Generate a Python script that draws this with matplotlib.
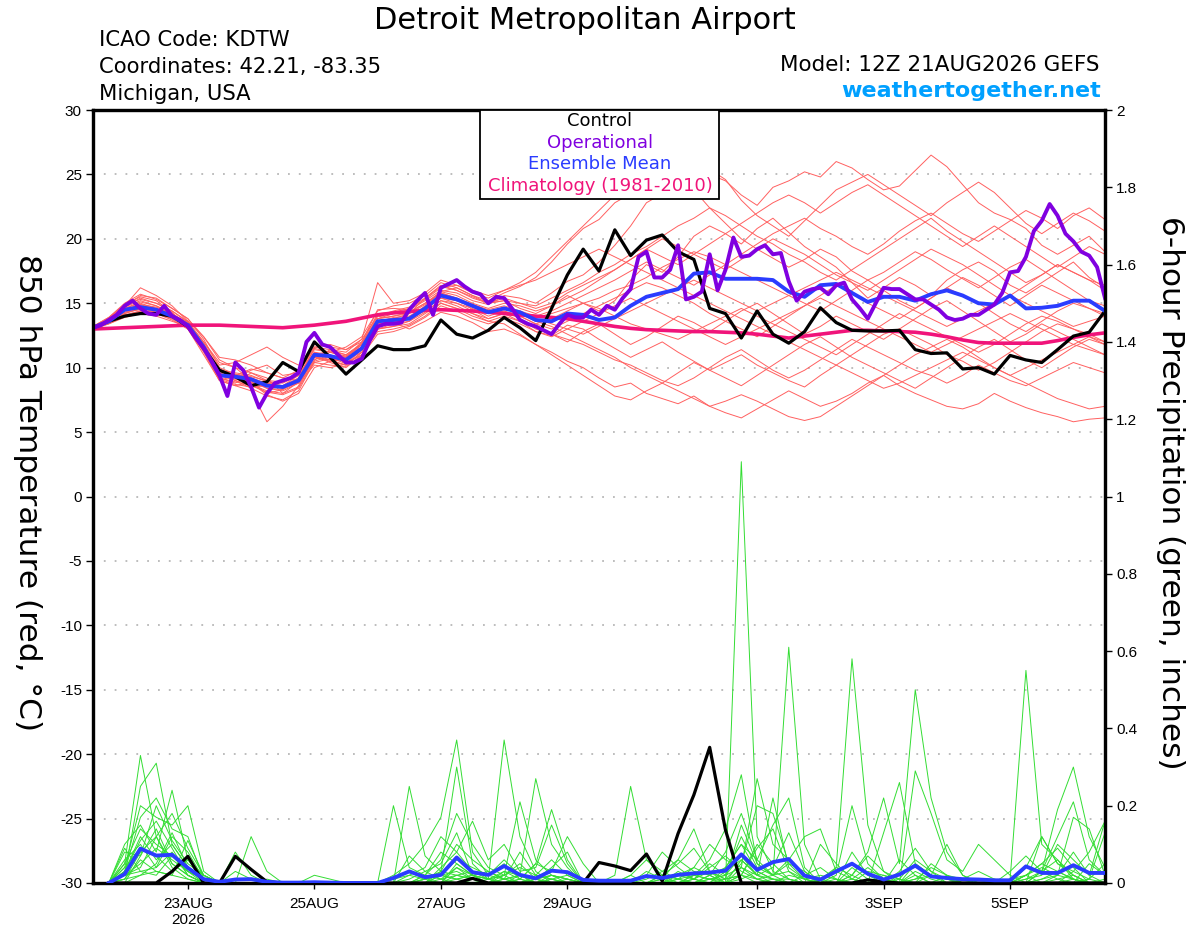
import numpy as np
import matplotlib
matplotlib.use("Agg")
import matplotlib.pyplot as plt
from matplotlib.patches import Rectangle

plt.rcParams['font.family'] = ['Liberation Sans', 'DejaVu Sans']

# ---------------- data ----------------
run_start = np.datetime64('2026-08-21T12')
tick_dates = ['2026-08-23', '2026-08-25', '2026-08-27', '2026-08-29', '2026-09-01', '2026-09-03', '2026-09-05']
tick_labels = ['23AUG\n2026', '25AUG', '27AUG', '29AUG', '1SEP', '3SEP', '5SEP']
step_hours = 6
oper_step_hours = 3

control = [13.1,13.6,14.0,14.2,14.2,14.0,13.2,11.5,9.8,9.3,8.6,8.9,10.4,9.7,12.0,10.8,9.5,10.6,11.7,11.4,11.4,11.7,13.7,12.6,
           12.3,12.9,13.9,13.1,12.1,14.6,17.2,19.2,17.5,20.7,18.7,19.9,20.3,19.0,18.4,14.6,14.2,12.3,14.4,12.6,11.9,
           12.8,14.65,13.5,12.9,12.85,12.85,12.9,11.4,11.1,11.15,9.9,10.0,9.5,10.95,10.6,10.4,11.4,12.45,12.75,14.4]

ens_mean = [13.1,13.6,14.5,14.7,14.5,14.0,13.3,11.6,9.4,9.3,9.1,8.6,8.5,9.0,11.0,10.9,10.6,11.5,13.6,13.7,13.8,14.6,15.6,15.3,
            14.8,14.3,14.6,14.3,13.7,13.6,14.2,14.1,13.7,13.9,14.8,15.5,15.8,16.1,17.3,17.4,16.9,16.9,16.9,16.8,15.9,
            15.5,16.4,16.5,15.8,15.1,15.5,15.5,15.2,15.7,16.0,15.6,15.0,14.9,15.6,14.6,14.65,14.8,15.2,15.2,14.4]

climatology = [13.0,13.05,13.1,13.15,13.2,13.25,13.3,13.3,13.3,13.25,13.2,13.15,13.1,13.2,13.3,13.45,13.6,13.85,14.1,14.25,
               14.35,14.45,14.5,14.45,14.4,14.3,14.2,14.1,14.0,13.9,13.8,13.6,13.4,13.2,13.05,12.95,12.9,12.85,12.8,12.8,
               12.75,12.7,12.6,12.45,12.3,12.45,12.6,12.75,12.9,12.9,12.85,12.8,12.75,12.6,12.4,12.15,11.95,11.9,11.9,11.9,
               11.9,12.1,12.35,12.55,12.7]

operational = [13.1,13.3,13.7,14.1,14.8,15.2,14.6,14.2,14.1,14.8,14.0,13.7,13.2,12.3,11.5,10.5,9.4,7.8,10.4,9.8,8.5,6.9,8.0,8.8,
               9.0,9.2,9.6,12.0,12.7,11.8,11.6,11.0,10.4,10.4,10.7,12.1,13.2,13.4,13.4,13.5,14.5,15.2,15.8,14.1,16.2,16.5,16.8,
               16.3,15.9,15.7,15.0,15.5,15.4,14.6,13.7,13.4,13.2,12.9,12.6,13.4,14.1,13.9,13.9,14.5,14.1,14.8,14.5,15.4,16.1,
               18.6,19.0,17.0,17.0,17.6,19.5,15.3,15.5,15.9,18.8,16.0,17.6,20.1,18.6,18.7,19.2,19.5,18.8,18.9,16.7,
               15.2,15.9,16.1,16.2,15.7,16.4,16.6,15.3,14.6,13.8,15.0,16.2,16.1,16.1,15.7,15.3,15.3,14.9,14.5,13.9,13.7,13.8,
               14.1,14.1,14.5,14.9,15.8,17.4,17.5,18.6,20.6,21.4,22.7,21.8,20.4,19.8,19.0,18.7,17.8,15.4]

temp_members = [
 [13.2,13.8,14.9,15.5,15.2,14.3,13.0,11.0,9.0,8.6,8.9,8.0,8.3,9.2,11.5,11.2,10.8,12.0,14.5,14.6,14.5,15.2,
  16.0,15.8,15.2,14.9,15.6,15.4,15.0,15.8,16.7,17.2,18.2,19.5,21.0,22.8,23.5,24.8,24.2,25.0,24.5,23.4,22.6,24.0,
  24.5,25.2,24.8,26.0,25.5,24.6,23.8,24.1,25.3,26.5,25.6,24.2,22.8,22.0,21.5,20.8,19.5,18.8,19.5,20.2,19.0],
 [13.0,13.5,14.0,14.4,14.2,13.8,13.4,12.0,10.2,10.4,11.0,11.6,10.8,10.2,10.8,10.5,10.2,11.2,13.2,13.5,13.0,13.6,
  14.3,14.0,13.5,12.8,13.0,12.5,11.8,11.2,10.5,10.0,9.2,8.5,8.8,8.0,7.6,7.2,7.8,7.0,6.5,6.1,6.8,7.5,
  8.2,7.6,7.0,7.4,8.0,8.8,9.4,8.6,8.0,7.5,7.0,6.8,7.2,8.0,7.4,6.9,6.5,6.2,5.8,6.0,6.1],
 [13.1,13.7,14.6,15.0,14.6,14.0,13.5,11.8,9.6,9.0,8.4,7.8,7.5,8.2,10.5,10.9,10.8,11.8,13.8,14.2,14.3,15.0,
  15.8,15.4,14.5,13.8,14.2,13.6,12.8,12.5,13.3,13.0,12.2,11.5,10.8,11.4,12.0,11.2,10.5,9.8,10.4,11.0,10.2,9.6,
  9.0,8.5,9.4,10.2,11.0,11.8,12.6,13.0,12.4,11.8,11.0,10.5,9.8,10.4,11.2,12.0,12.8,13.4,13.0,12.6,12.0],
 [13.2,13.9,15.0,15.7,15.3,14.6,13.8,12.2,10.0,9.5,9.2,8.8,8.6,9.4,11.2,11.0,10.4,11.0,13.0,13.4,13.9,14.8,
  15.9,16.2,15.6,15.2,15.8,16.3,17.0,18.2,19.6,20.8,21.5,22.8,23.5,24.2,25.0,24.6,23.8,22.4,21.2,20.0,19.2,18.5,
  17.8,18.4,19.2,18.6,17.5,16.8,17.4,18.2,19.0,18.4,17.6,16.9,16.2,17.0,17.8,18.4,17.6,16.8,16.0,15.2,14.8],
 [13.0,13.6,14.3,14.5,14.6,14.2,13.2,11.5,9.2,8.8,9.6,9.2,8.0,8.5,10.6,11.4,11.2,12.2,14.0,13.8,14.2,15.4,
  16.4,16.0,15.4,15.0,15.2,14.6,14.2,14.8,15.6,15.0,14.4,15.2,16.8,18.0,17.4,18.6,20.2,21.0,20.4,19.6,20.8,21.6,
  20.5,19.4,18.6,17.8,16.6,15.4,16.2,17.0,16.4,15.6,16.8,17.6,18.2,17.5,16.4,15.8,16.6,17.4,18.2,17.0,16.2],
 [13.1,13.5,14.2,14.6,14.3,13.8,13.0,11.2,9.0,9.4,9.9,9.6,9.2,9.0,10.9,10.4,10.0,11.0,12.8,13.0,13.3,14.0,
  15.0,14.6,14.0,13.6,14.0,13.6,13.2,12.6,12.0,12.8,13.4,12.6,11.8,12.4,13.2,14.0,13.5,12.8,13.6,14.4,15.0,14.2,
  13.4,12.6,13.2,14.0,13.4,12.8,12.2,13.0,13.8,14.6,15.2,14.4,13.6,12.8,12.0,12.6,13.4,12.8,12.2,11.6,11.0],
 [13.2,13.8,14.7,15.2,14.8,14.2,13.4,11.8,9.8,9.6,9.4,8.9,8.8,9.4,11.4,11.2,10.9,11.6,13.5,13.9,14.0,14.7,
  15.6,15.2,14.9,14.5,14.8,14.4,14.0,14.4,15.0,15.6,16.2,16.8,17.5,18.2,17.6,17.0,16.4,17.2,18.0,18.8,19.6,20.4,
  21.0,21.6,20.8,20.2,19.4,18.8,19.6,20.6,21.4,22.0,21.2,20.4,19.8,20.6,21.4,22.2,21.6,20.8,21.8,22.4,21.5],
 [13.0,13.4,14.0,14.3,14.4,14.0,13.6,12.4,10.6,10.0,9.0,8.4,8.2,8.8,10.2,10.0,10.3,11.4,13.4,13.6,13.9,14.6,
  15.4,15.0,14.6,14.0,14.4,14.0,13.4,13.0,13.6,14.2,14.8,15.4,16.0,16.6,16.2,15.6,15.0,14.2,13.6,13.0,12.4,13.2,
  14.0,14.8,15.6,16.4,15.8,15.0,14.4,13.8,14.6,15.4,16.2,15.6,15.0,14.2,13.4,12.8,13.6,14.4,15.0,14.6,14.0],
 [13.1,13.6,14.4,14.8,14.6,14.1,13.2,11.3,9.0,8.6,8.2,5.8,7.0,8.6,10.8,10.6,10.5,11.4,13.2,13.4,13.6,14.3,
  15.2,14.8,14.2,13.6,13.4,12.6,11.8,11.0,10.2,9.4,8.6,7.8,7.5,8.2,8.8,9.6,10.4,9.8,9.2,8.6,9.4,10.2,
  11.0,11.8,12.4,11.6,10.8,10.2,9.6,9.0,8.4,9.2,10.0,10.8,11.6,12.2,11.4,10.6,10.0,10.8,11.6,12.2,11.8],
 [13.2,13.7,14.8,16.2,15.6,14.8,13.6,11.6,9.4,9.0,8.7,8.2,8.0,8.9,11.0,11.3,11.0,11.9,14.2,14.3,14.6,15.3,
  16.2,16.4,15.8,15.4,16.0,16.6,17.4,18.6,19.8,21.0,22.2,23.4,24.6,25.2,24.4,25.6,26.2,25.4,24.6,23.0,21.8,21.0,
  20.2,21.4,22.6,23.8,24.4,25.0,24.2,23.4,22.6,21.8,22.8,23.6,24.4,23.6,22.4,21.2,20.4,21.2,22.0,21.4,20.6],
 [13.0,13.5,14.2,14.6,14.4,13.9,13.1,11.4,9.6,9.2,9.8,10.2,9.4,9.6,11.6,11.8,11.4,12.0,13.6,13.5,13.8,14.4,
  15.2,15.0,14.4,14.2,14.6,14.2,13.9,14.2,14.6,15.0,15.4,16.0,16.4,17.0,17.8,18.4,19.0,18.6,18.0,17.4,16.8,16.2,
  15.6,15.0,14.4,15.2,16.0,16.8,16.0,15.2,14.6,15.4,16.2,17.0,16.4,15.6,14.8,15.6,16.4,15.8,15.2,14.6,14.2],
 [13.1,13.6,14.5,14.9,14.5,13.9,13.3,11.7,9.2,8.9,8.6,8.1,7.9,8.4,10.4,10.7,10.6,11.2,13.0,13.2,13.6,14.5,
  15.4,15.2,14.7,14.2,14.4,13.8,13.0,12.6,12.2,11.8,11.2,10.6,10.2,9.6,9.0,8.6,9.2,10.0,10.8,11.4,10.6,9.8,
  9.2,9.8,10.6,11.4,12.2,11.6,11.0,10.4,9.8,9.4,8.8,9.4,10.2,9.6,9.0,8.6,9.2,9.8,10.4,10.0,9.6],
 [13.2,13.9,14.9,15.3,15.0,14.4,13.5,11.9,9.9,9.3,8.8,7.9,7.4,8.0,10.0,10.5,10.8,11.8,14.0,14.4,14.7,15.4,
  16.3,16.0,15.5,15.0,15.4,15.0,14.8,15.4,16.0,16.6,17.4,18.0,18.8,19.4,20.2,21.0,21.6,22.4,21.8,21.0,20.2,19.6,
  18.8,18.2,17.4,16.8,17.6,18.4,19.2,20.0,20.8,21.6,20.6,19.8,19.0,18.2,17.4,16.6,17.2,18.0,17.4,16.8,16.4],
 [13.0,13.5,14.1,14.4,14.2,13.7,13.0,11.5,9.4,9.1,9.0,8.8,8.6,9.2,11.2,10.8,10.3,11.0,13.0,13.2,13.4,14.2,
  15.0,14.6,14.2,13.8,14.2,14.0,13.4,13.8,14.4,15.0,14.6,14.0,13.4,13.0,12.6,12.2,12.8,13.4,14.0,14.6,14.0,13.4,
  12.8,12.2,11.6,11.0,11.8,12.6,13.4,14.2,13.6,13.0,12.4,11.8,11.2,11.8,12.6,13.4,14.0,13.6,13.0,12.4,11.8],
 [13.1,13.7,14.6,15.1,14.8,14.2,13.4,11.6,9.5,9.2,8.9,8.4,8.3,8.9,10.8,10.9,10.9,11.8,13.8,14.0,14.2,14.9,
  15.8,15.4,14.9,14.4,14.6,14.2,13.6,13.2,12.6,12.0,11.4,10.8,10.0,9.4,8.8,8.2,7.6,7.0,7.4,7.9,7.4,6.8,
  6.2,5.9,6.2,7.0,7.8,8.6,9.4,10.2,11.0,11.6,12.2,11.6,10.8,10.0,9.4,8.8,8.2,7.6,7.2,6.8,7.0],
 [13.2,13.8,14.7,15.4,15.0,14.4,13.6,12.0,10.4,10.0,9.6,9.0,8.4,8.8,10.6,11.2,11.6,12.4,14.4,14.8,15.0,15.6,
  16.6,16.2,15.6,15.0,15.2,15.0,14.6,15.0,15.8,16.4,17.0,17.6,18.4,19.2,20.0,19.4,18.8,18.2,17.6,18.4,19.2,20.0,
  19.4,18.8,18.0,17.2,16.6,16.0,16.8,17.6,18.4,19.2,18.6,18.0,17.2,16.4,15.6,16.4,17.2,18.0,17.4,16.8,16.0],
 [13.0,13.4,13.9,14.2,14.0,13.6,13.2,11.8,9.8,9.4,9.2,8.6,8.4,9.0,10.4,10.2,10.1,10.9,12.6,12.8,13.2,13.9,
  14.8,14.4,13.8,13.4,13.8,13.4,12.8,12.4,13.0,13.6,14.2,14.8,15.4,14.8,14.2,13.6,13.0,12.4,11.8,12.4,13.0,13.6,
  14.2,14.8,15.4,14.8,14.2,13.6,13.0,12.4,11.8,11.2,11.8,12.4,13.0,13.6,14.2,13.6,13.0,12.4,11.8,11.4,11.0],
 [13.1,13.7,14.5,14.9,14.7,14.2,13.4,11.7,9.7,9.5,9.3,9.0,8.9,9.6,11.6,11.4,11.0,11.8,13.8,14.0,14.3,15.0,
  15.9,15.6,15.0,14.6,15.0,14.8,14.4,14.8,15.4,16.0,16.8,17.6,18.4,19.2,18.6,18.0,18.8,19.6,20.4,21.2,22.0,22.8,
  23.4,22.8,22.0,22.8,23.6,24.2,23.4,22.6,21.8,21.0,20.2,19.4,20.2,21.0,20.2,19.4,18.6,17.8,18.6,19.4,18.8],
 [13.0,13.6,14.3,14.7,14.5,14.0,13.2,11.4,9.1,8.7,8.5,8.6,8.9,9.5,11.0,10.6,10.2,11.2,13.4,13.6,13.8,14.6,
  15.6,15.2,14.8,14.4,14.6,14.2,13.8,13.4,13.0,12.6,13.2,13.8,14.4,15.0,15.6,16.2,16.8,16.2,15.6,15.0,14.4,15.0,
  15.6,16.2,16.8,17.4,16.8,16.2,15.6,15.0,14.4,13.8,13.2,13.8,14.4,15.0,15.6,15.0,14.4,13.8,13.2,13.6,14.0],
 [13.2,13.8,14.8,15.6,15.4,14.6,13.8,12.4,10.8,10.6,10.2,9.6,9.2,9.8,11.8,11.6,11.4,12.2,16.6,15.0,15.2,15.8,
  16.8,16.4,16.0,15.6,16.0,16.4,16.8,17.4,18.0,18.6,19.2,18.6,18.0,17.4,16.8,16.2,15.6,15.0,14.4,13.8,13.2,12.6,
  12.0,11.4,10.8,10.2,9.6,9.0,8.4,8.8,9.4,10.0,10.6,11.2,10.6,10.0,9.4,10.0,10.6,11.2,11.8,12.4,12.0],
]

# 6-hour precipitation (inches), periods ending at steps 1..64
precip_control = [0,0,0,0,0.030,0.069,0,0, 0.069,0.035,0.003,0,0,0,0,0, 0,0,0,0,0,0,0,0.012,
                  0,0,0,0,0,0,0,0.053, 0.044,0.032,0.075,0.005,0.128,0.228,0.351,0.137,
                  0,0,0,0,0,0,0,0, 0.008,0.003,0,0,0,0,0,0, 0,0,0,0,0,0,0,0]
precip_mean = [0,0.023,0.089,0.071,0.073,0.039,0.010,0.003, 0.009,0.010,0.003,0.001,0.001,0.002,0.001,0,
               0,0,0.013,0.030,0.015,0.021,0.066,0.028, 0.021,0.044,0.021,0.012,0.032,0.028,0.008,0.006,
               0.006,0.006,0.018,0.013,0.021,0.025,0.027,0.032, 0.074,0.034,0.054,0.062,0.019,0.009,0.030,0.050,
               0.024,0.009,0.022,0.045,0.017,0.013,0.010,0.009, 0.007,0.007,0.043,0.026,0.026,0.046,0.026,0.026]
precip_members = [
 [0,0.05,0.33,0.12,0.05,0.02,0,0, 0,0,0,0,0,0,0,0, 0,0,0.02,0.05,0.10,0.17,0.37,0.08, 0.02,0.05,0.01,0,0,0,0,0,
  0,0,0,0.02,0.05,0.09,0.03,0, 1.09,0.12,0.03,0.01,0,0,0,0, 0,0,0,0,0,0,0,0, 0,0,0.02,0.05,0.03,0.01,0,0],
 [0,0.02,0.25,0.31,0.10,0.04,0.01,0, 0,0,0,0,0,0,0,0, 0,0,0,0.25,0.07,0.03,0.30,0.05, 0.01,0.37,0.12,0.03,0,0,0,0,
  0,0,0.02,0.08,0.04,0.01,0,0.04, 0.10,0.06,0.02,0.61,0.10,0.01,0,0, 0,0,0,0,0,0,0,0, 0,0,0,0,0,0.03,0.08,0.16],
 [0,0.10,0.15,0.08,0.24,0.06,0.02,0, 0.08,0.02,0,0,0,0,0,0, 0,0,0.20,0.04,0.02,0.06,0.18,0.10, 0.04,0.02,0.21,0.06,0.02,0,0,0,
  0,0,0,0,0,0.02,0.06,0.14, 0.28,0.05,0.02,0,0,0,0.04,0.58, 0.15,0.03,0,0,0.05,0.02,0,0, 0,0,0,0.12,0.05,0.02,0,0],
 [0,0.04,0.20,0.17,0.15,0.20,0.03,0, 0,0.12,0.03,0,0,0,0,0, 0,0,0.01,0.02,0.04,0.12,0.08,0.03, 0.02,0.06,0.02,0.27,0.10,0.04,0,0,
  0,0,0,0,0.01,0.04,0.10,0.06, 0.04,0.27,0.10,0.06,0.02,0,0,0.02, 0.08,0.22,0.05,0.50,0.22,0.08,0.02,0, 0,0,0,0,0,0,0,0],
 [0,0.01,0.08,0.12,0.18,0.09,0.02,0, 0,0,0.01,0,0,0.02,0.01,0, 0,0,0,0,0,0,0.05,0.02, 0,0.03,0.01,0.05,0.19,0.06,0,0,
  0.02,0.25,0.06,0.02,0,0,0.02,0.08, 0.18,0.06,0.15,0.22,0.04,0,0,0, 0,0,0,0,0,0,0,0, 0,0.01,0.55,0.10,0.06,0.02,0,0],
 [0,0.03,0.12,0.06,0.10,0.04,0,0, 0,0,0,0,0,0,0,0, 0,0,0,0.01,0.03,0.05,0.13,0.02, 0.01,0.02,0.04,0.02,0.01,0,0,0,
  0,0,0.01,0.03,0.06,0.14,0.03,0.01, 0.05,0.20,0.18,0.05,0.01,0,0.02,0.20, 0.05,0.01,0,0,0.02,0.10,0.02,0, 0,0,0,0.03,0.19,0.30,0.12,0.04],
 [0,0.02,0.05,0.09,0.06,0.03,0.01,0, 0,0,0,0,0,0,0,0, 0,0,0,0,0.01,0.02,0.06,0.04, 0.02,0.01,0.08,0.02,0.06,0.02,0,0,
  0,0,0,0,0.03,0.01,0.05,0.02, 0.12,0.04,0.02,0.06,0.12,0.14,0.03,0.01, 0,0,0.03,0.09,0.03,0.01,0,0, 0,0.03,0.07,0.03,0.12,0.21,0.06,0.02],
 [0,0.08,0.07,0.14,0.05,0.02,0,0, 0,0,0,0,0,0,0,0, 0,0,0,0,0,0.04,0.08,0.16, 0.06,0.10,0.03,0.04,0.15,0.05,0,0,
  0,0,0,0,0,0,0,0.03, 0.06,0.02,0.22,0.04,0.01,0,0,0, 0,0.13,0.26,0.05,0.02,0.01,0,0, 0,0,0,0,0,0,0.01,0.13],
 [0,0.03,0.17,0.22,0.14,0.12,0.01,0, 0,0,0,0,0,0,0,0, 0,0,0,0.02,0.01,0.03,0.02,0.01, 0,0,0.02,0.01,0.04,0.08,0,0,
  0,0.02,0.06,0.03,0.01,0,0,0.01, 0.02,0.10,0.05,0.01,0,0,0,0, 0.03,0.02,0,0.29,0.18,0.06,0.03,0.10, 0.06,0.02,0,0,0.02,0.17,0.14,0.02],
 [0,0.06,0.10,0.04,0.08,0.02,0,0, 0,0,0,0,0,0,0,0, 0,0,0,0,0,0,0.04,0.02, 0,0,0.01,0,0.02,0.01,0,0,
  0,0.02,0,0.01,0.06,0.03,0.02,0, 0.04,0.02,0.01,0,0,0.10,0.05,0.01, 0,0,0.06,0.02,0,0,0,0, 0,0,0.04,0.12,0.05,0.03,0.01,0],
 [0,0.02,0.04,0.12,0.04,0.01,0,0, 0,0,0,0,0,0,0,0, 0,0,0,0.07,0.03,0.01,0,0.01, 0,0.02,0.05,0.01,0,0,0,0,
  0,0,0,0.01,0.02,0.01,0,0, 0.02,0.01,0,0,0,0.01,0.04,0.02, 0,0,0.01,0.06,0.03,0,0,0, 0,0.01,0.02,0.05,0.09,0.04,0,0],
 [0,0.01,0.06,0.03,0.02,0.11,0.02,0, 0,0,0,0,0,0,0,0, 0,0,0,0,0.02,0.08,0.05,0.02, 0.01,0.03,0.02,0.01,0,0,0,0,
  0,0,0,0,0,0.01,0.03,0.01, 0.15,0.05,0.02,0.03,0.01,0,0,0.08, 0.02,0,0,0.02,0,0,0,0, 0.01,0,0,0,0,0,0.05,0.02],
 [0,0.09,0.03,0.02,0.07,0.03,0,0, 0,0,0,0,0,0,0,0, 0,0,0,0,0,0.02,0.01,0.02, 0.03,0.01,0,0.02,0.01,0,0,0,
  0,0,0,0,0,0,0.02,0.04, 0.10,0.03,0.01,0.01,0,0,0,0.04, 0.01,0,0,0.05,0.02,0,0,0, 0,0,0.02,0.04,0.02,0.08,0.02,0],
 [0,0.04,0.09,0.07,0.03,0.06,0.01,0, 0,0,0,0,0,0,0,0, 0,0,0,0,0,0.03,0.10,0.06, 0.03,0.01,0.02,0,0.01,0.02,0,0,
  0,0,0,0.02,0.01,0.02,0.01,0, 0.06,0.02,0.04,0.13,0.03,0,0.01,0, 0,0.02,0.01,0,0,0,0,0, 0,0,0.01,0.02,0.10,0.06,0.02,0.16],
 [0,0,0.02,0.05,0.13,0.04,0.01,0, 0.03,0.01,0,0,0,0,0,0, 0,0,0,0,0.02,0.01,0.02,0.01, 0,0.01,0,0.01,0.02,0.01,0,0,
  0,0,0.03,0.01,0,0,0.01,0.02, 0.04,0.01,0,0.02,0.01,0.02,0.01,0, 0,0,0,0.01,0.02,0.01,0,0, 0,0,0,0.01,0.02,0.01,0,0.01],
 [0,0.03,0.11,0.16,0.09,0.02,0,0, 0,0,0,0,0,0,0,0, 0,0,0,0,0,0.01,0.04,0.01, 0,0,0.01,0.05,0.03,0.12,0.05,0,
  0,0,0,0,0.01,0,0,0, 0.02,0.09,0.14,0.03,0,0,0,0.01, 0.04,0.01,0,0.03,0.01,0,0,0, 0,0,0.01,0.03,0.06,0.01,0,0],
 [0,0.02,0.03,0.04,0.12,0.08,0.01,0, 0,0,0,0,0,0,0,0, 0,0,0,0,0,0,0.02,0.03, 0.01,0,0,0.01,0.02,0.01,0,0,
  0,0,0,0,0,0.01,0.04,0.07, 0.03,0.01,0.02,0.05,0.03,0,0,0.02, 0.07,0.03,0.01,0,0,0,0.01,0.03, 0.01,0,0,0.03,0.01,0,0.01,0.05],
 [0,0.05,0.14,0.10,0.07,0.03,0.01,0, 0,0,0,0,0,0,0,0, 0,0,0,0,0.01,0.02,0.03,0.01, 0,0.01,0.02,0,0.01,0,0,0,
  0,0,0,0,0,0.02,0.01,0.02, 0.07,0.02,0,0,0.02,0.04,0.01,0, 0,0,0,0.01,0.04,0.02,0,0, 0,0,0.02,0,0.01,0.02,0,0],
 [0,0,0.07,0.20,0.11,0.05,0.02,0, 0,0,0,0,0,0,0,0, 0,0,0,0,0,0.02,0.01,0, 0.01,0.02,0,0.01,0,0,0,0,
  0,0,0,0,0.02,0.04,0.02,0, 0.01,0.03,0.01,0,0,0,0,0, 0,0,0,0,0,0.02,0.01,0, 0,0,0,0.01,0.03,0.01,0,0],
 [0,0.01,0.02,0.03,0.02,0.01,0,0, 0,0,0,0,0,0,0,0, 0,0,0,0,0.01,0,0.01,0.02, 0.01,0,0,0,0,0.01,0,0,
  0,0,0,0,0,0,0.01,0.01, 0.02,0,0.01,0,0,0,0,0, 0,0,0,0,0,0,0,0.01, 0,0,0,0,0,0.01,0,0],
]

# ---------------- plotting ----------------
W, H = 1200, 927
fig = plt.figure(figsize=(W / 100, H / 100), dpi=100)
L, R, T, B = 93, 1105, 110, 883
ax = fig.add_axes([L / W, 1 - B / H, (R - L) / W, (B - T) / H])
ax2 = ax.twinx()

def hours_to_days(n, step):
    t = run_start + np.arange(n) * np.timedelta64(step, 'h')
    return (t - run_start) / np.timedelta64(1, 'h') / 24.0

x6 = hours_to_days(len(control), step_hours)
x3 = hours_to_days(len(operational), oper_step_hours)
xp = x6[1:1 + len(precip_mean)]

red = '#ff6060'
green = '#33dd33'
for m in temp_members:
    ax.plot(x6, m, color=red, lw=0.7, zorder=2)
ax.plot(x6, climatology, color='#f0147a', lw=2.6, zorder=4)
ax.plot(x6, control, color='black', lw=2.3, zorder=5)
ax.plot(x6, ens_mean, color='#2a3cff', lw=2.8, zorder=6)
ax.plot(x3, operational, color='#8000e0', lw=2.8, zorder=7)

for m in precip_members:
    ax2.plot(xp, m, color=green, lw=0.7, zorder=2)
ax2.plot(xp, precip_control, color='black', lw=2.3, zorder=5)
ax2.plot(xp, precip_mean, color='#2a3cff', lw=2.8, zorder=6)

ax.set_xlim(0, 16)
ax.set_ylim(-30, 30)
ax2.set_ylim(0, 2)

tick_pos = [(np.datetime64(d + 'T00') - run_start) / np.timedelta64(1, 'h') / 24.0 for d in tick_dates]
ax.set_xticks(tick_pos)
ax.set_xticklabels(tick_labels, fontsize=11, linespacing=1.15)
ax.set_yticks(np.arange(-30, 31, 5))
ax.set_yticklabels([f'{v:g}' for v in np.arange(-30, 31, 5)], fontsize=11)
ax2.set_yticks(np.arange(0, 2.01, 0.2))
ax2.set_yticklabels([f'{v:g}' for v in np.round(np.arange(0, 2.01, 0.2), 1)], fontsize=11)

for g in np.arange(-25, 26, 5):
    ax.axhline(g, color='#b8b8b8', lw=1.3, ls=(0, (1, 5)), zorder=1)

for a in (ax, ax2):
    for s in a.spines.values():
        s.set_linewidth(2.3)
ax.tick_params(axis='y', direction='out', length=5, width=1, pad=3)
ax.tick_params(axis='x', direction='out', length=4, width=1, pad=6)
ax2.tick_params(axis='y', direction='out', length=5, width=1, pad=3)

# texts
def fy(y):
    return 1 - y / H

hdr = ['DejaVu Sans']
fig.text(585 / W, fy(29), 'Detroit Metropolitan Airport', ha='center', va='baseline', fontsize=22, family=hdr)
fig.text(99 / W, fy(46), 'ICAO Code: KDTW', ha='left', va='baseline', fontsize=15.2, family=hdr)
fig.text(99 / W, fy(73), 'Coordinates: 42.21, -83.35', ha='left', va='baseline', fontsize=15.2, family=hdr)
fig.text(99 / W, fy(99.5), 'Michigan, USA', ha='left', va='baseline', fontsize=15.2, family=hdr)
fig.text(1100 / W, fy(71), 'Model: 12Z 21AUG2026 GEFS', ha='right', va='baseline', fontsize=15.5, family=hdr)
fig.text(1101 / W, fy(97), 'weathertogether.net', ha='right', va='baseline', fontsize=16,
         fontweight='bold', color='#00a0ff', family=hdr)

fig.text(27 / W, fy(493), '850 hPa Temperature (red, \u00b0C)', rotation=270, ha='center', va='center',
         fontsize=22.5, family=hdr)
fig.text(1170 / W, fy(493), '6-hour Precipitation (green, inches)', rotation=270, ha='center', va='center',
         fontsize=22.5, family=hdr)

# legend box
box = Rectangle((480 / W, fy(199)), (719 - 480) / W, (199 - 110) / H, transform=fig.transFigure,
                facecolor='white', edgecolor='black', lw=1.3, zorder=10)
fig.add_artist(box)
leg_items = [('Control', 'black'), ('Operational', '#8000e0'), ('Ensemble Mean', '#2a3cff'),
             ('Climatology (1981-2010)', '#f0147a')]
for k, (txt, col) in enumerate(leg_items):
    t = fig.text(600 / W, fy(126 + 21.7 * k), txt, ha='center', va='baseline', fontsize=13, color=col, family=hdr)
    t.set_zorder(11)

fig.savefig('out.png', dpi=100)
